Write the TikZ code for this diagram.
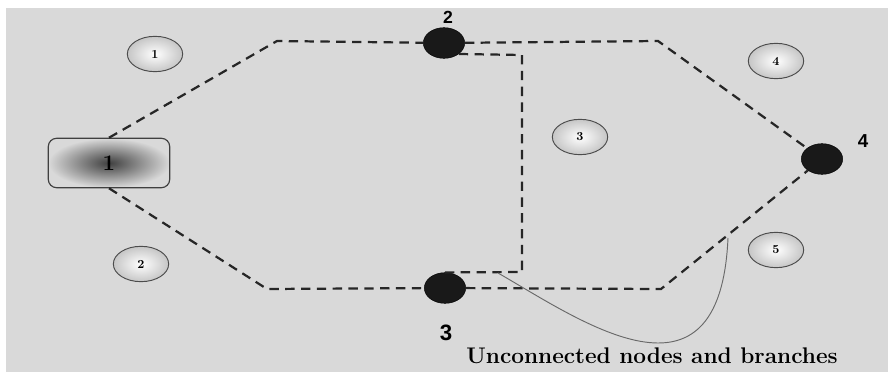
\documentclass[tikz,border=0pt]{standalone}
\usepackage{fontspec}
\newfontfamily\labelfont{Liberation Sans}
\usetikzlibrary{shapes.geometric}
\definecolor{bggray}{RGB}{217,217,217}
\definecolor{curvegray}{RGB}{105,105,105}
\tikzset{
  branchline/.style={dash pattern=on 8pt off 5.5pt,line width=1.9pt,draw=black!85},
  busnode/.style={ellipse,fill=black!90,draw=black,minimum width=1.24cm,
    minimum height=0.92cm,inner sep=0pt},
  meshtag/.style={ellipse,draw=black!70,line width=0.8pt,inner color=white,
    outer color=gray!45,minimum width=1.66cm,minimum height=1.06cm,inner sep=0pt,
    font=\bfseries\fontsize{10.5}{12}\selectfont},
  sourcebox/.style={rectangle,rounded corners=7pt,draw=black!75,line width=1pt,
    inner color=black!75,outer color=gray!30,minimum width=3.64cm,
    minimum height=1.48cm,font=\bfseries\fontsize{19}{22}\selectfont},
  busnum/.style={font=\labelfont\bfseries\fontsize{19}{22}\selectfont},
  remark/.style={font=\bfseries\fontsize{19.3}{22}\selectfont},
}
\begin{document}
\begin{tikzpicture}[x=0.03cm,y=-0.03cm]
  \useasboundingbox (0,0) rectangle (888,372);
  \fill[white] (0,0) rectangle (888,372);
  \fill[bggray] (6,8) rectangle (888,372);
  % source and buses
  \node[sourcebox] (n1) at (109,163) {1};
  \node[busnode] (n2) at (444,43) {};
  \node[busnode] (n3) at (445,288) {};
  \node[busnode] (n4) at (822,159) {};
  \node[busnum,font=\labelfont\bfseries\fontsize{15}{18}\selectfont] (l2) at (448,17) {2};
  \node[busnum] (l3) at (446,333) {3};
  \node[busnum,font=\labelfont\bfseries\fontsize{16}{18}\selectfont] (l4) at (863,141) {4};
  % mesh numbers
  \node[meshtag] (m1) at (155,54) {1};
  \node[meshtag] (m2) at (141,264) {2};
  \node[meshtag] (m3) at (580,137) {3};
  \node[meshtag] (m4) at (776,61) {4};
  \node[meshtag] (m5) at (776,250) {5};
  % corners
  \coordinate (c1) at (277,41);
  \coordinate (c2) at (658,41);
  \coordinate (c3) at (267,289);
  \coordinate (c4) at (661,289);
  \coordinate (k1) at (522,55);
  \coordinate (k2) at (522,272);
  % branches
  \draw[branchline] (n1.north) -- (c1) -- (n2);
  \draw[branchline] (n2) -- (c2) -- (n4);
  \draw[branchline] (n1.south) -- (c3) -- (n3);
  \draw[branchline] (n3) -- (c4) -- (n4);
  \draw[branchline] (n2.south east) -- (k1) -- (k2) -- (n3.north);
  % pointer to the note
  \coordinate (q1) at (498,273);
  \coordinate (q2) at (728,238);
  \draw[curvegray,line width=0.8pt] (q1) .. controls (580,320) and (720,420) .. (q2);
  \node[remark] (note) at (652,356) {Unconnected nodes and branches};
\end{tikzpicture}
\end{document}
